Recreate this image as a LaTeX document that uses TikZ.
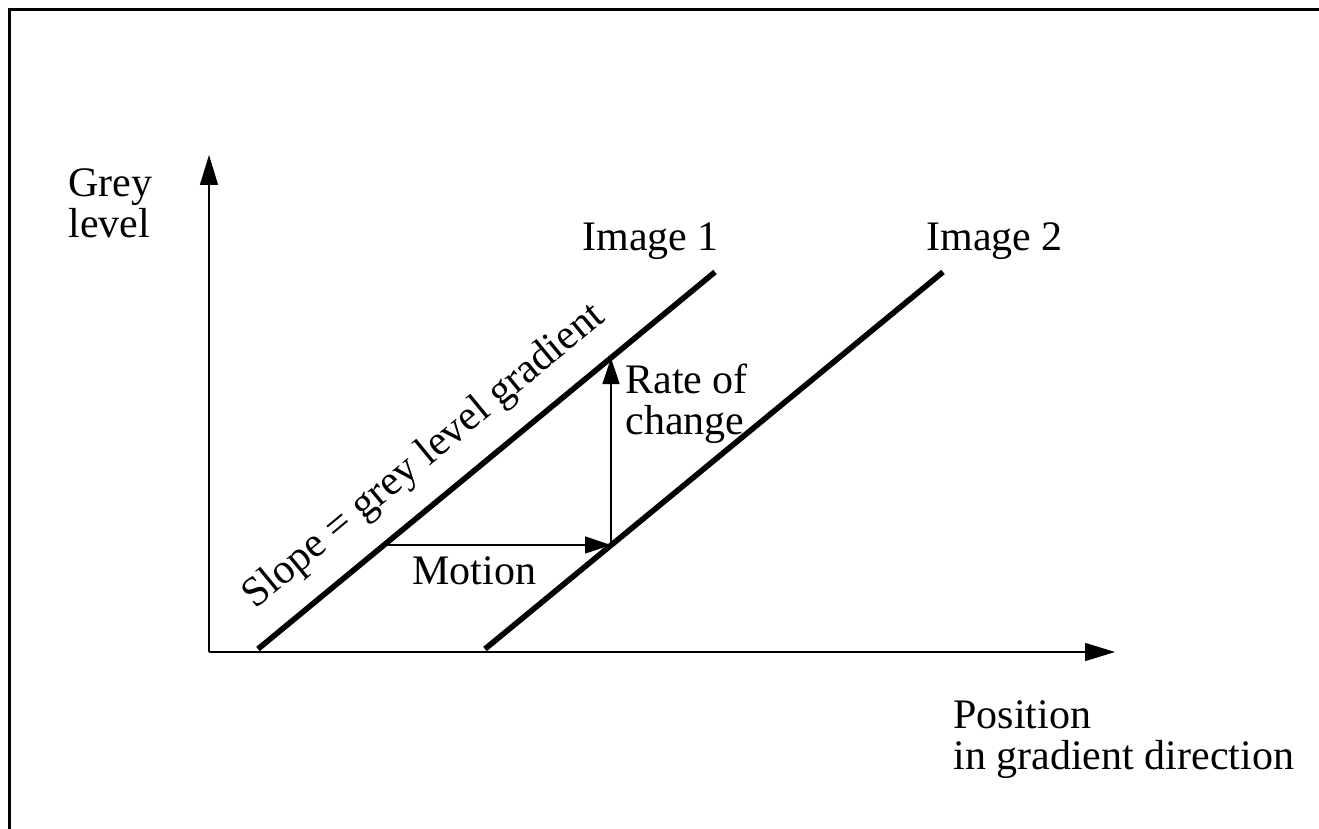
\documentclass[tikz,border=0pt]{standalone}
\usepackage{fontspec}
\setmainfont{Liberation Serif}
\usetikzlibrary{arrows.meta}

\begin{document}
\begin{tikzpicture}[
    x=0.5pt, y=-0.5pt,
    axis/.style={line width=0.75pt, -{Triangle[length=15pt, width=9pt]}},
    profile/.style={line width=2.8pt},
    shiftarrow/.style={line width=0.65pt, -{Triangle[length=13pt, width=8.5pt]}},
    lbl/.style={font=\fontsize{21pt}{20.5pt}\selectfont, inner sep=0pt, align=left}
]
    \useasboundingbox (0,0) rectangle (1319,829);
    \draw[line width=1.5pt] (9,829) -- (9,10) -- (1319,10);

    % axes
    \coordinate (origin) at (209,652);
    \coordinate (ytop) at (209,155);
    \coordinate (xend) at (1115,652);
    \draw[axis] (origin) -- (ytop);
    \draw[axis] (origin) -- (xend);
    \node[lbl, anchor=north west] (greylevel) at (68,168) {Grey\\level};
    \node[lbl, anchor=north west] (position) at (953,700) {Position\\in gradient direction};

    % the two grey level profiles
    \coordinate (imgA0) at (258,649);
    \coordinate (imgA1) at (715,272);
    \coordinate (imgB0) at (485,649);
    \coordinate (imgB1) at (943,272);
    \draw[profile] (imgA0) -- (imgA1);
    \draw[profile] (imgB0) -- (imgB1);
    \node[lbl, anchor=base west] (image1) at (582,250) {Image 1};
    \node[lbl, anchor=base west] (image2) at (926,250) {Image 2};
    \node[lbl, anchor=base west, rotate=39.5] (slope) at (255,610) {Slope = grey level gradient};

    % motion and rate of change
    \coordinate (mstart) at (384,545);
    \coordinate (mend) at (611,545);
    \coordinate (rend) at (611,358);
    \draw[shiftarrow] (mstart) -- (mend);
    \draw[shiftarrow] (mend) -- (rend);
    \node[lbl, anchor=base west] (motion) at (412,584) {Motion};
    \node[lbl, anchor=north west] (rate) at (625,364) {Rate of\\change};
\end{tikzpicture}
\end{document}
